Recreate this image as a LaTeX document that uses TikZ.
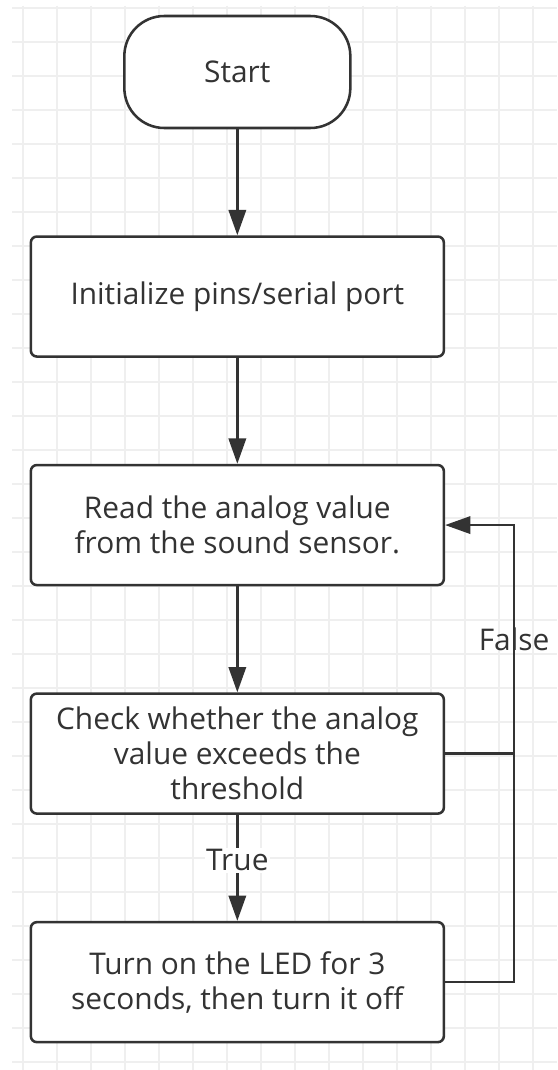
\documentclass[tikz,border=0pt]{standalone}
\usepackage{fontspec}
\setmainfont{Open Sans}
\usetikzlibrary{positioning, arrows.meta}
\definecolor{ink}{HTML}{333333}
\definecolor{gridcol}{HTML}{EFEFEF}

\begin{document}
\begin{tikzpicture}[node distance=79.5pt,
    every node/.style={text=ink, font=\fontsize{22.4}{26.25}\selectfont},
    block/.style={rectangle, rounded corners=4.5pt, draw=ink, line width=1.9pt, fill=white, minimum width=309.75pt, minimum height=90pt, align=center, inner sep=2pt},
    terminal/.style={rectangle, rounded corners=30pt, draw=ink, line width=1.9pt, fill=white, minimum width=169.5pt, minimum height=84pt},
    arr/.style={draw=ink, line width=1.9pt, -{Triangle[length=19pt, width=13pt]}},
    link/.style={draw=ink, line width=1.9pt},
    gridline/.style={draw=gridcol, line width=0.9pt}
]
\useasboundingbox (0,0) rectangle (417.75pt,-802.5pt);
\fill[white] (0,0) rectangle (417.75pt,-802.5pt);
\foreach \k in {0,...,15} \draw[gridline] (17.25pt+\k*25.5pt,-4.5pt) -- (17.25pt+\k*25.5pt,-802.5pt);
\foreach \k in {0,...,31} \draw[gridline] (9pt,-6pt-\k*25.5pt) -- (417.75pt,-6pt-\k*25.5pt);

\node[terminal] (start) at (178pt,-54pt) {Start};
\node[block, below=of start] (init) {Initialize pins/serial port};
\node[block, below=of init] (read) {Read the analog value\\from the sound sensor.};
\node[block, below=of read] (check) {Check whether the analog\\value exceeds the\\threshold};
\node[block, below=of check] (led) {Turn on the LED for 3\\seconds, then turn it off};

\draw[arr] (start) -- (init);
\draw[arr] (init) -- (read);
\draw[arr] (read) -- (check);
\draw[arr] (check) -- node[pos=0.43, fill=white, inner sep=1pt] {True} (led);
\draw[arr] (check.east) -- ++(51.75pt,0) coordinate (bend) -- node[pos=0.5] {False} (bend |- read.east) -- (read.east);
\draw[link] (led.east) -| (bend);

\end{tikzpicture}
\end{document}
